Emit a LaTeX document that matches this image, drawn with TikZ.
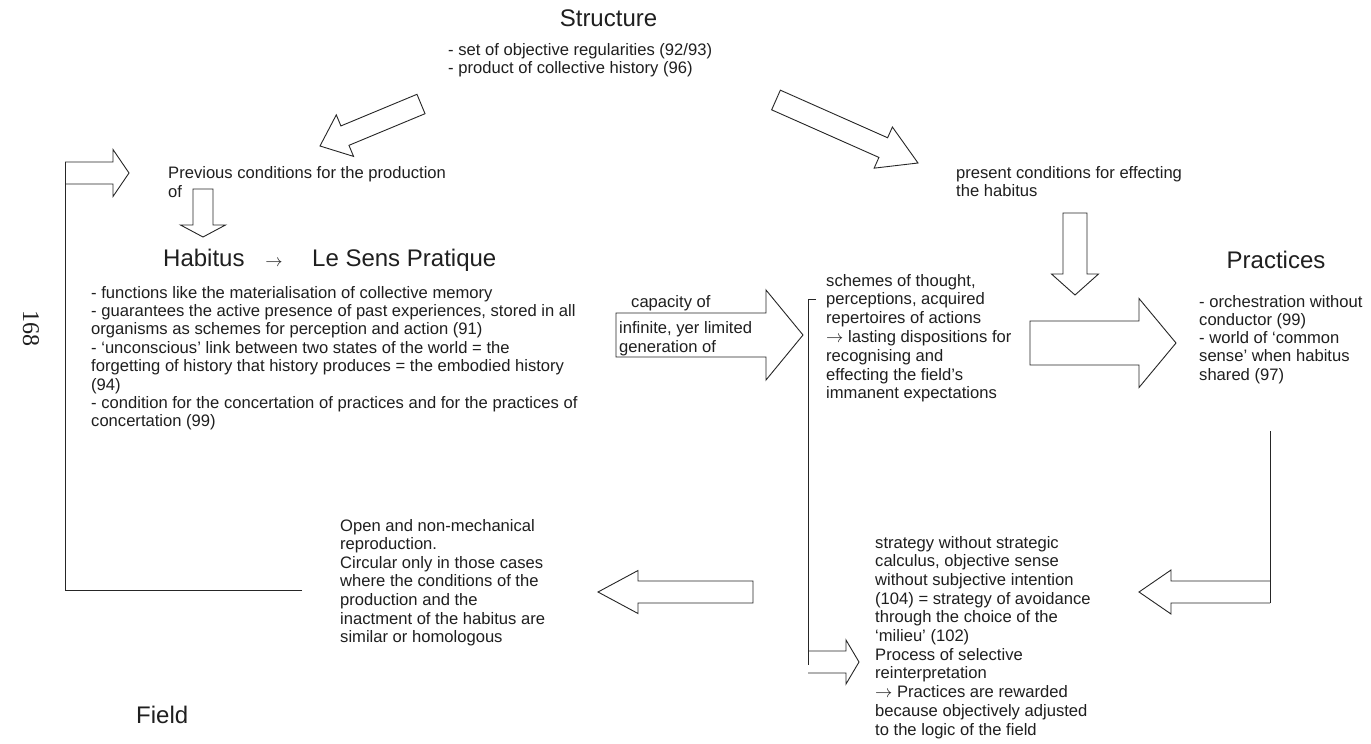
\documentclass[tikz,border=0pt]{standalone}
\usepackage{fontspec}
\setmainfont{Liberation Sans}
\newfontfamily\pagefont{Liberation Serif}
\usetikzlibrary{calc}
\newcommand{\blockarrow}[6]{%
  \coordinate (#1-hb) at ($(#3)!#6!(#2)$);
  \draw[arrowline] ($(#2)!#4!90:(#3)$) -- ($(#1-hb)!#4!90:(#3)$) -- ($(#1-hb)!#5!90:(#3)$) -- (#3)
    -- ($(#1-hb)!#5!-90:(#3)$) -- ($(#1-hb)!#4!-90:(#3)$) -- ($(#2)!#4!-90:(#3)$) -- cycle;}
\newcommand{\openarrow}[6]{%
  \coordinate (#1-hb) at ($(#3)!#6!(#2)$);
  \draw[arrowline] ($(#2)!#4!90:(#3)$) -- ($(#1-hb)!#4!90:(#3)$) -- ($(#1-hb)!#5!90:(#3)$) -- (#3)
    -- ($(#1-hb)!#5!-90:(#3)$) -- ($(#1-hb)!#4!-90:(#3)$) -- ($(#2)!#4!-90:(#3)$);}
\begin{document}
\begin{tikzpicture}[x=1pt,y=-1pt,
  arrowline/.style={draw=black!85, line width=0.9pt, line join=miter},
  conn/.style={draw=black!85, line width=0.9pt},
  txt/.style={inner sep=0pt, anchor=base west, align=left, text=black!88,
    font=\fontsize{16.6}{18.6}\selectfont},
  title/.style={inner sep=0pt, text=black!88, font=\fontsize{24}{28}\selectfont}]
\fill[white] (0,0) rectangle (1371,744);
\useasboundingbox (0,0) rectangle (1371,744);

% ---- texts (multi-line nodes are placed by the baseline of their last line)
\node[title, anchor=base] (structure) at (608.5,26.7) {Structure};
\node[txt] (structlist) at (448,73.6) {- set of objective regularities (92/93)\\- product of collective history (96)};
\node[txt] (previous) at (168,197.1) {Previous conditions for the production\\of};
\node[txt] (present) at (956,196.6) {present conditions for effecting\\the habitus};
\node[title, anchor=base west] (habitus) at (163,266) {Habitus};
\node[inner sep=0pt, anchor=base, font=\fontsize{18}{18}\selectfont, text=black!88] (harrow) at (274,266) {$\rightarrow$};
\node[title, anchor=base west] (lesens) at (312,266) {Le Sens Pratique};
\node[txt, font=\fontsize{16.6}{18.4}\selectfont] (habituslist) at (91,426.8) {- functions like the materialisation of collective memory\\
- guarantees the active presence of past experiences, stored in all\\
organisms as schemes for perception and action (91)\\
- ‘unconscious’ link between two states of the world = the\\
forgetting of history that history produces = the embodied history\\
(94)\\
- condition for the concertation of practices and for the practices of\\
concertation (99)};
\node[txt] (capacity) at (631,307) {capacity of};
\node[txt, font=\fontsize{16.6}{19}\selectfont] (infinite) at (619,352) {infinite, yer limited\\generation of};
\node[txt, font=\fontsize{16.6}{18.8}\selectfont] (schemes) at (826,398.8) {schemes of thought,\\perceptions, acquired\\repertoires of actions\\$\rightarrow$ lasting dispositions for\\recognising and\\effecting the field’s\\immanent expectations};
\node[title, anchor=base] (practices) at (1276,268) {Practices};
\node[txt, font=\fontsize{16.6}{18.3}\selectfont] (praclist) at (1199,380.2) {- orchestration without\\conductor (99)\\- world of ‘common\\sense’ when habitus\\shared (97)};
\node[txt] (open) at (340,642.6) {Open and non-mechanical\\reproduction.\\Circular only in those cases\\where the conditions of the\\production and the\\inactment of the habitus are\\similar or homologous};
\node[txt, font=\fontsize{16.6}{18.7}\selectfont] (strategy) at (875,735) {strategy without strategic\\calculus, objective sense\\without subjective intention\\(104) = strategy of avoidance\\through the choice of the\\‘milieu’ (102)\\Process of selective\\reinterpretation\\$\rightarrow$ Practices are rewarded\\because objectively adjusted\\to the logic of the field};
\node[title, anchor=base west] (field) at (136,723) {Field};
\node[inner sep=0pt, rotate=-90, font=\fontsize{24}{24}\pagefont, text=black!88] (page) at (31,328) {168};

% ---- coordinates
\coordinate (a1t) at (421,104);  \coordinate (a1h) at (320,146);
\coordinate (a2t) at (776,100);  \coordinate (a2h) at (918,163);
\coordinate (a4t) at (203,189);  \coordinate (a4h) at (203,237);
\coordinate (a5t) at (616,335);  \coordinate (a5h) at (803,335);
\coordinate (a6t) at (1030,343); \coordinate (a6h) at (1176,343);
\coordinate (a7t) at (1075,213); \coordinate (a7h) at (1075,295);
\coordinate (a8t) at (753,592);  \coordinate (a8h) at (598,592);
\coordinate (a3t) at (65,173);   \coordinate (a3h) at (129,173);
\coordinate (a9t) at (808,662);  \coordinate (a9h) at (859,662);
\coordinate (a10t) at (1270,592); \coordinate (a10h) at (1139,592);
\coordinate (loopR) at (302,590); \coordinate (loopBL) at (65,590); \coordinate (loopTL) at (65,162);
\coordinate (brT) at (816,299); \coordinate (brC) at (808,299); \coordinate (brB) at (808,665);
\coordinate (rtT) at (1270,431); \coordinate (rtB) at (1270,603);

% ---- block arrows
\blockarrow{a1}{a1t}{a1h}{10.5pt}{22.5pt}{27pt}
\blockarrow{a2}{a2t}{a2h}{10.75pt}{22.5pt}{38pt}
\blockarrow{a4}{a4t}{a4h}{10pt}{22.5pt}{12pt}
\blockarrow{a5}{a5t}{a5h}{22pt}{45pt}{37pt}
\blockarrow{a6}{a6t}{a6h}{22pt}{44.5pt}{37pt}
\blockarrow{a7}{a7t}{a7h}{12pt}{23.5pt}{21pt}
\blockarrow{a8}{a8t}{a8h}{11pt}{21.5pt}{40pt}
\openarrow{a3}{a3t}{a3h}{11pt}{23.5pt}{16pt}
\openarrow{a9}{a9t}{a9h}{11pt}{22pt}{13pt}
\openarrow{a10}{a10t}{a10h}{11pt}{22pt}{32pt}

% ---- connector lines
\draw[conn] (loopR) -- (loopBL) -- (loopTL);
\draw[conn] (brT) -- (brC) -- (brB);
\draw[conn] (rtT) -- (rtB);
\end{tikzpicture}
\end{document}
